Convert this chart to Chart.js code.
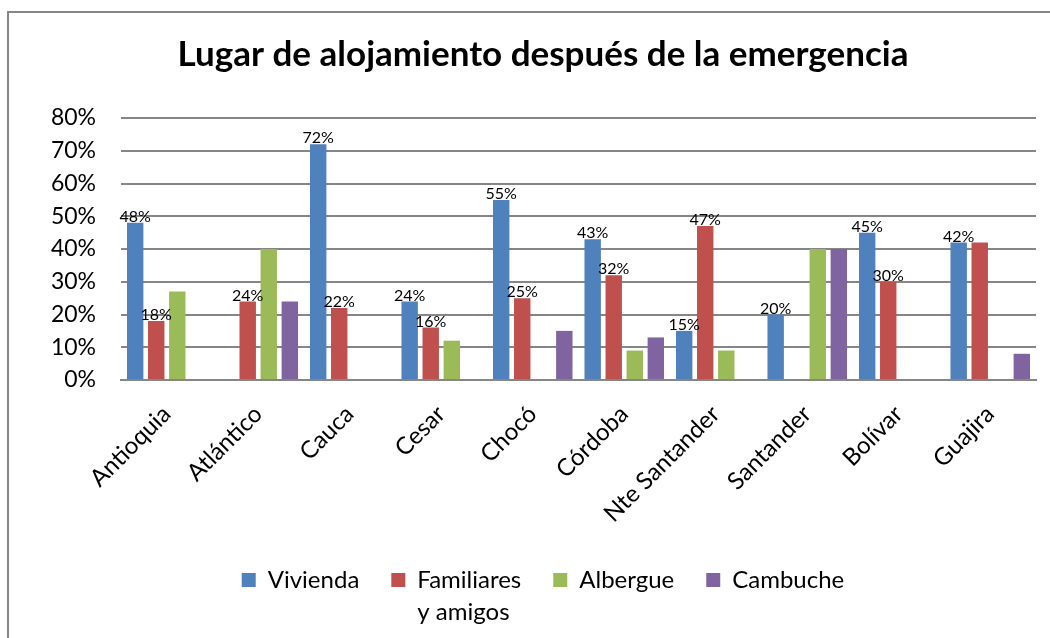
<!DOCTYPE html>
<html>
<head>
<meta charset="utf-8">
<script src="https://cdn.jsdelivr.net/npm/chart.js@4/dist/chart.umd.min.js"></script>
<style>
  body { margin: 0; background: #fff; }
  #marco { position: relative; width: 1050px; height: 638px; }
  #borde { position: absolute; left: 7px; top: 11px; right: 0; bottom: 0;
           border-left: 2px solid #868686; border-top: 2px solid #868686; }
  canvas { position: absolute; left: 0; top: 0; }
</style>
</head>
<body>
<div id="marco">
  <div id="borde"></div>
  <canvas id="grafico" width="1050" height="638"></canvas>
</div>
<script>
// datos (porcentajes)
var departamentos = ['Antioquia', 'Atlántico', 'Cauca', 'Cesar', 'Chocó', 'Córdoba',
                     'Nte Santander', 'Santander', 'Bolívar', 'Guajira'];
var vivienda   = [48, 0, 72, 24, 55, 43, 15, 20, 45, 42];
var familiares = [18, 24, 22, 16, 25, 32, 47, 0, 30, 42];
var albergue   = [27, 40, 0, 12, 0, 9, 9, 40, 0, 0];
var cambuche   = [0, 24, 0, 0, 15, 13, 0, 40, 0, 8];
var ticksY = [0, 10, 20, 30, 40, 50, 60, 70, 80];

// series con etiqueta de valor, y posiciones sin etiqueta
var conEtiqueta = [0, 1];
var sinEtiqueta = { 1: [9] };

var fuente = 'Lato, "Liberation Sans", sans-serif';
var tamLeyenda = 24;

var etiquetas = {
    id: 'etiquetas',
    afterDatasetsDraw: function(chart) {
        var ctx = chart.ctx;
        ctx.save();
        ctx.font = '16px ' + fuente;
        ctx.fillStyle = '#000';
        ctx.textAlign = 'center';
        ctx.textBaseline = 'bottom';
        conEtiqueta.forEach(function(i) {
            var meta = chart.getDatasetMeta(i);
            meta.data.forEach(function(bar, j) {
                var v = chart.data.datasets[i].data[j];
                if (!v) return;
                if (sinEtiqueta[i] && sinEtiqueta[i].indexOf(j) >= 0) return;
                ctx.fillText(v + '%', bar.x, bar.y + 2);
            });
        });
        ctx.restore();
    }
};

// segunda línea de "Familiares y amigos" en la leyenda
var segundaLinea = {
    id: 'segundaLinea',
    afterDraw: function(chart) {
        var caja = chart.legend.legendHitBoxes[1];
        if (!caja) return;
        var ctx = chart.ctx;
        ctx.save();
        ctx.font = tamLeyenda + 'px ' + fuente;
        ctx.fillStyle = '#000';
        ctx.textAlign = 'left';
        ctx.textBaseline = 'middle';
        ctx.fillText('y amigos', caja.left + 14 + tamLeyenda / 2, caja.top + caja.height / 2 + 32);
        ctx.restore();
    }
};

var ctx = document.getElementById('grafico').getContext('2d');
var chart = new Chart(ctx, {
    type: 'bar',
    data: {
        labels: departamentos,
        datasets: [
            { label: 'Vivienda', data: vivienda, backgroundColor: '#4F81BD' },
            { label: 'Familiares', data: familiares, backgroundColor: '#C0504D' },
            { label: 'Albergue', data: albergue, backgroundColor: '#9BBB59' },
            { label: 'Cambuche', data: cambuche, backgroundColor: '#8064A2' }
        ]
    },
    options: {
        responsive: false,
        animation: false,
        datasets: {
            bar: { categoryPercentage: 0.92, barPercentage: 0.78 }
        },
        layout: {
            padding: { left: 50, right: 14, top: 0, bottom: 36 }
        },
        plugins: {
            title: {
                display: true,
                text: 'Lugar de alojamiento después de la emergencia',
                color: '#000',
                font: { family: fuente, size: 35, weight: 'bold' },
                padding: { top: 34, bottom: 42 }
            },
            legend: {
                position: 'bottom',
                labels: {
                    color: '#000',
                    font: { family: fuente, size: tamLeyenda },
                    boxWidth: 14,
                    boxHeight: 14,
                    padding: 32
                }
            },
            tooltip: { enabled: false }
        },
        scales: {
            x: {
                grid: { display: false },
                border: { color: '#868686', width: 2 },
                afterFit: function(scale) { scale.height = 156; },
                ticks: {
                    color: '#000',
                    font: { family: fuente, size: 24 },
                    minRotation: 45,
                    maxRotation: 45,
                    padding: 12
                }
            },
            y: {
                min: 0,
                max: 80,
                afterBuildTicks: function(axis) {
                    axis.ticks = ticksY.map(function(v) { return { value: v }; });
                },
                afterFit: function(scale) { scale.width = 71; },
                grid: { color: '#868686', lineWidth: 2, drawTicks: false },
                border: { display: false },
                ticks: {
                    color: '#000',
                    font: { family: fuente, size: 23 },
                    padding: 25,
                    callback: function(v) { return v + '%'; }
                }
            }
        }
    },
    plugins: [etiquetas, segundaLinea]
});
</script>
</body>
</html>
